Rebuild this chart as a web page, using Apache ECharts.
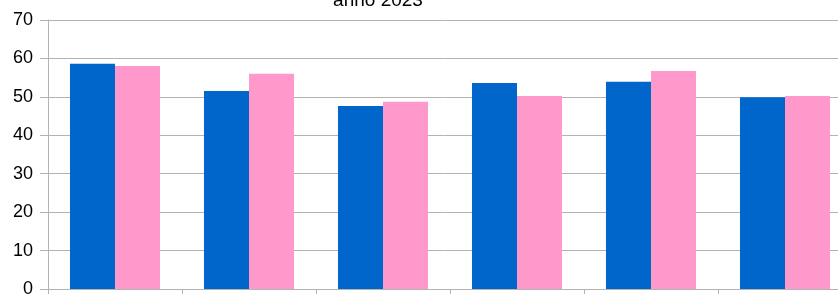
<!DOCTYPE html>
<html>
<head>
<meta charset="utf-8">
<script src="https://cdn.jsdelivr.net/npm/echarts@6/dist/echarts.min.js"></script>
<style>
    html, body { margin: 0; padding: 0; background: #fff; }
    #chart { width: 838px; height: 294px; }
</style>
</head>
<body>
<div id="chart"></div>
<script>
// dati
var categorie = ['1', '2', '3', '4', '5', '6'];
var serieBlu = [58.6, 51.5, 47.6, 53.6, 53.9, 49.9];
var serieRosa = [58.0, 56.0, 48.7, 50.2, 56.7, 50.2];
var tickY = [0, 10, 20, 30, 40, 50, 60, 70];

var chart = echarts.init(document.getElementById('chart'));
var option = {
    animation: false,
    title: {
        text: 'anno 2023',
        left: 373,
        top: -14,
        textAlign: 'center',
        textStyle: {
            fontFamily: 'Liberation Sans',
            fontSize: 19,
            fontWeight: 'normal',
            color: '#000'
        }
    },
    grid: {
        left: 48,
        right: -14,
        top: 20,
        bottom: 5,
        containLabel: false,
        outerBoundsMode: 'none'
    },
    xAxis: {
        type: 'category',
        data: categorie,
        axisLine: { lineStyle: { color: '#b3b3b3', width: 1 } },
        axisTick: { show: true, length: 6, lineStyle: { color: '#b3b3b3' } },
        axisLabel: { show: false },
        splitLine: { show: false }
    },
    yAxis: {
        type: 'value',
        min: tickY[0],
        max: tickY[tickY.length - 1],
        interval: 10,
        axisLine: { show: true, lineStyle: { color: '#b3b3b3', width: 1 } },
        axisTick: { show: true, length: 8, lineStyle: { color: '#b3b3b3' } },
        axisLabel: {
            margin: 15,
            fontFamily: 'Liberation Sans',
            fontSize: 18,
            color: '#000'
        },
        splitLine: { lineStyle: { color: '#b3b3b3', width: 1 } }
    },
    series: [
        {
            name: 'blu',
            type: 'bar',
            data: serieBlu,
            barGap: '0%',
            barCategoryGap: '32.8%',
            itemStyle: { color: '#0066cc' }
        },
        {
            name: 'rosa',
            type: 'bar',
            data: serieRosa,
            barGap: '0%',
            barCategoryGap: '32.8%',
            itemStyle: { color: '#ff99cc' }
        }
    ]
};
chart.setOption(option);
</script>
</body>
</html>
